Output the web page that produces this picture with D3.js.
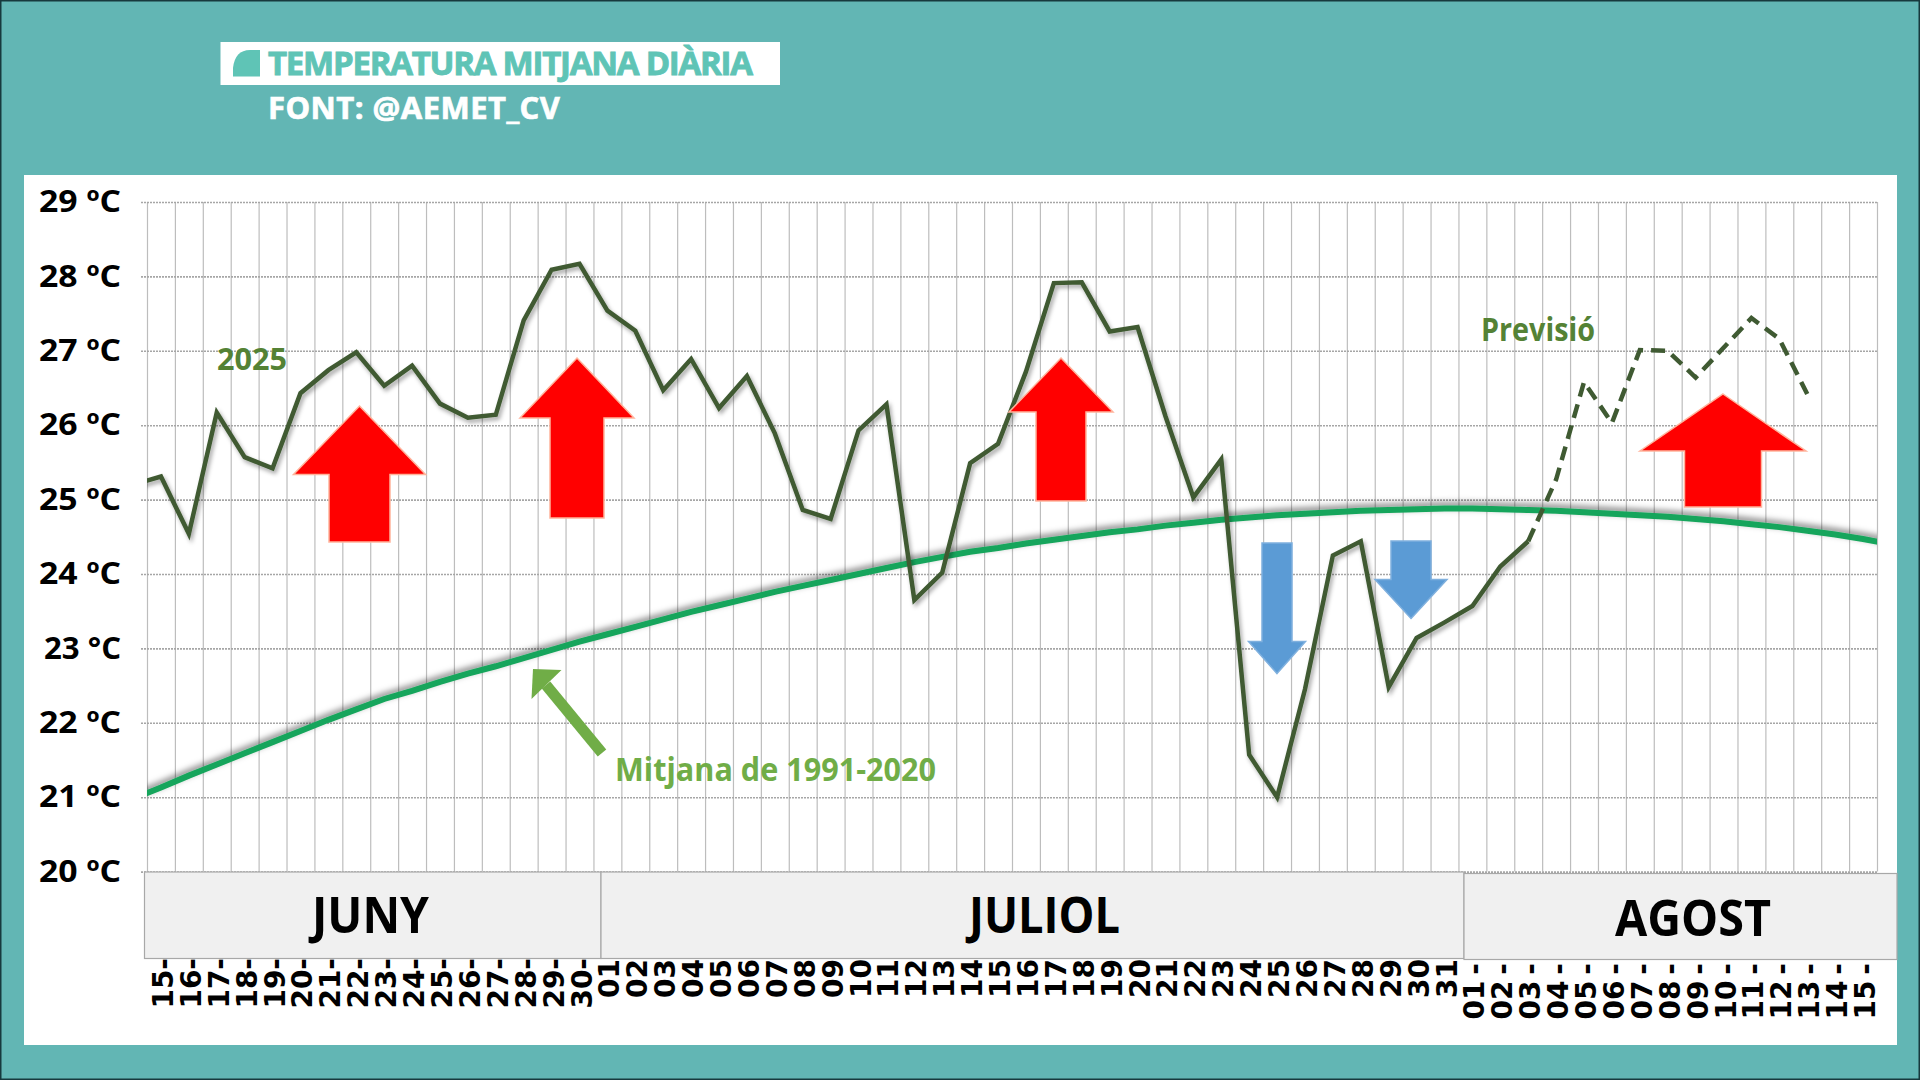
<!DOCTYPE html>
<html>
<head>
<meta charset="utf-8">
<script src="https://cdn.jsdelivr.net/npm/d3@7"></script>
<style>
html, body { margin: 0; padding: 0; background: #62b6b4; }
svg { display: block; }
</style>
</head>
<body>
<div id="chart"></div>
<script>

// y axis
var tempTicks = [20, 21, 22, 23, 24, 25, 26, 27, 28, 29]
var tempLabels = ["20 ºC", "21 ºC", "22 ºC", "23 °C", "24 ºC", "25 ºC", "26 ºC", "27 ºC", "28 ºC", "29 ºC"]

// x axis, one label per day
var juneDays = ["15", "16", "17", "18", "19", "20", "21", "22", "23", "24", "25", "26", "27", "28", "29", "30"]
var julyDays = ["01", "02", "03", "04", "05", "06", "07", "08", "09", "10", "11", "12", "13", "14", "15", "16",
  "17", "18", "19", "20", "21", "22", "23", "24", "25", "26", "27", "28", "29", "30", "31"]
var augustDays = ["01", "02", "03", "04", "05", "06", "07", "08", "09", "10", "11", "12", "13", "14", "15"]
var monthNames = ["JUNY", "JULIOL", "AGOST"]

// 2025 observed, first value is 14 June (only its slope shows, it is clipped)
var observed = [25.2, 25.31, 24.54, 26.17, 25.57, 25.42, 26.43, 26.74, 26.98, 26.53, 26.8, 26.29, 26.1, 26.14, 27.41, 28.09, 28.17,
  27.54, 27.27, 26.47, 26.89, 26.23, 26.66, 25.89, 24.86, 24.74, 25.93, 26.28, 23.65, 24.02, 25.49, 25.75, 26.72, 27.91, 27.92,
  27.26, 27.32, 26.12, 25.03, 25.54, 21.57, 21.0, 22.45, 24.25, 24.44, 22.48, 23.14, 23.35,
  23.57, 24.1, 24.44]

// forecast, starts on 3 August where observed stops
var forecast = [24.44, 25.27, 26.58, 26.03, 27.01, 27.0, 26.64, 27.04, 27.44, 27.16, 26.42]

// 1991-2020 mean, from 14 June to 16 August
var normal = [20.98, 21.13, 21.29, 21.44, 21.59, 21.74, 21.89, 22.04, 22.18, 22.32, 22.43, 22.55, 22.66, 22.76, 22.87, 22.98, 23.09,
  23.19, 23.29, 23.39, 23.49, 23.58, 23.67, 23.76, 23.84, 23.92, 24.0, 24.08, 24.16, 24.23, 24.3, 24.35, 24.41, 24.46, 24.51, 24.56,
  24.6, 24.65, 24.69, 24.73, 24.76, 24.79, 24.81, 24.83, 24.85, 24.86, 24.87, 24.88,
  24.88, 24.87, 24.86, 24.85, 24.83, 24.81, 24.79, 24.77, 24.74, 24.71, 24.67, 24.63, 24.58, 24.53, 24.47, 24.4]

var teal = "#62b6b4"
var dark = "#3f5a32"

var svg = d3.select("#chart").append("svg")
  .attr("width", 1920)
  .attr("height", 1080)

//Background and frame
svg.append("rect").attr("width", 1920).attr("height", 1080).style("fill", teal)
svg.append("rect").attr("x", 0.5).attr("y", 0.5).attr("width", 1919).attr("height", 1079)
  .style("fill", "none").style("stroke", "#17393d").style("stroke-width", 2)
svg.append("rect").attr("x", 24).attr("y", 175).attr("width", 1873).attr("height", 870).style("fill", "#fff")

//Shadows behind the lines
var defs = svg.append("defs")
function addShadow(id, dx, dy, blur, opacity){
  defs.append("filter")
    .attr("id", id)
    .attr("filterUnits", "userSpaceOnUse")
    .attr("x", 0).attr("y", 0).attr("width", 1920).attr("height", 1080)
    .append("feDropShadow")
    .attr("dx", dx).attr("dy", dy).attr("stdDeviation", blur)
    .attr("flood-color", "#000").attr("flood-opacity", opacity)
}
addShadow("shadowDark", 2, 3, 2, 0.35)
addShadow("shadowGreen", 0, -3, 3, 0.5)

var xScale = d3.scaleLinear().domain([-0.5, 61.5]).range([147, 1877])
var yScale = d3.scaleLinear().domain([20, 29]).range([871.6, 202])

defs.append("clipPath").attr("id", "plotClip").append("rect")
  .attr("x", xScale(-0.5)).attr("y", yScale(29))
  .attr("width", xScale(61.5) - xScale(-0.5))
  .attr("height", yScale(20) - yScale(29))

//Vertical grid, lines sit between the days
var gridEdges = d3.range(-0.5, 62, 1)
var xGrid = d3.axisTop(xScale).tickValues(gridEdges).tickSize(yScale(20) - yScale(29)).tickFormat("")
svg.append("g")
  .attr("transform", "translate(0," + yScale(20) + ")")
  .call(xGrid)
  .call(function(g){ g.select(".domain").remove() })
  .selectAll("line")
  .style("stroke", "#bdbdbd")
  .style("stroke-width", 1.2)

//Horizontal grid and temperature labels
var yAxis = d3.axisLeft(yScale)
  .tickValues(tempTicks)
  .tickSize(xScale(61.5) - 140)
  .tickFormat(function(d){ return tempLabels[tempTicks.indexOf(d)] })

var yG = svg.append("g")
  .attr("transform", "translate(" + xScale(61.5) + ",0)")
  .call(yAxis)
yG.select(".domain").remove()
yG.selectAll("line")
  .style("stroke", "#a6a6a6")
  .style("stroke-width", 1.6)
  .style("stroke-dasharray", "2 1")
yG.selectAll("text")
  .attr("x", 121 - xScale(61.5))
  .attr("dy", "0.31em")
  .attr("textLength", function(d){ return d == 23 ? 77 : 82 })
  .attr("lengthAdjust", "spacingAndGlyphs")
  .style("font-family", "'Open Sans'")
  .style("font-weight", 700)
  .style("font-size", "31px")
  .style("fill", "#000")

//Lines
var line = d3.line()
  .x(function(d){ return xScale(d.day) })
  .y(function(d){ return yScale(d.value) })

function toPoints(values, firstDay){
  return values.map(function(v, i){ return {day: firstDay + i, value: v} })
}

var plot = svg.append("g").attr("clip-path", "url(#plotClip)")

plot.append("g").attr("filter", "url(#shadowGreen)").append("path")
  .attr("d", line(toPoints(normal, -1)))
  .style("fill", "none")
  .style("stroke", "#17a55c")
  .style("stroke-width", 6)

plot.append("g").attr("filter", "url(#shadowDark)").append("path")
  .attr("d", line(toPoints(observed, -1)))
  .style("fill", "none")
  .style("stroke", dark)
  .style("stroke-width", 4.5)

plot.append("path")
  .attr("d", line(toPoints(forecast, 49)))
  .style("fill", "none")
  .style("stroke", dark)
  .style("stroke-width", 4.5)
  .style("stroke-dasharray", "14 8")

//Month boxes
function monthBox(name, x0, x1, y0, y1, textX, textW, base){
  svg.append("rect")
    .attr("x", x0).attr("y", y0)
    .attr("width", x1 - x0).attr("height", y1 - y0)
    .style("fill", "#f0f0f0")
    .style("stroke", "#a8a8a8")
    .style("stroke-width", 1.2)
  svg.append("text")
    .attr("x", textX).attr("y", base)
    .attr("textLength", textW)
    .attr("lengthAdjust", "spacingAndGlyphs")
    .style("font-family", "'Open Sans'")
    .style("font-weight", 700)
    .style("font-size", "51px")
    .text(name)
}
monthBox(monthNames[0], 144.5, 601, 872, 958.5, 312, 117, 933)
monthBox(monthNames[1], 601, 1464, 872, 958.5, 969, 151, 933)
monthBox(monthNames[2], 1464, 1897, 873.5, 959.5, 1615, 156, 936)

//Day labels, rotated, hung under the month boxes
function dayLabels(labels, firstDay, suffix, topY){
  svg.append("g").selectAll("text")
    .data(labels)
    .enter()
    .append("text")
    .attr("transform", function(d, i){
      return "translate(" + (xScale(firstDay + i) + 12) + "," + topY + ") rotate(-90)"
    })
    .attr("text-anchor", "end")
    .style("font-family", "'DejaVu Sans'")
    .style("font-weight", 700)
    .style("font-size", "28px")
    .html(function(d){ return d + suffix })
}
dayLabels(juneDays, 0, "-", 958)
dayLabels(julyDays, 16, "", 959)
dayLabels(augustDays, 47, '<tspan dx="6">-</tspan>', 963)

//Arrows, placed on the chart by hand like the original
function arrow(colour, edge, cx, tipY, baseY, endY, headHalf, shaftHalf){
  var dir = d3.path()
  dir.moveTo(cx, tipY)
  dir.lineTo(cx + headHalf, baseY)
  dir.lineTo(cx + shaftHalf, baseY)
  dir.lineTo(cx + shaftHalf, endY)
  dir.lineTo(cx - shaftHalf, endY)
  dir.lineTo(cx - shaftHalf, baseY)
  dir.lineTo(cx - headHalf, baseY)
  dir.closePath()
  svg.append("path")
    .attr("d", dir.toString())
    .style("fill", colour)
    .style("stroke", edge)
    .style("stroke-width", 1.5)
}
arrow("#ff0000", "#ffb49c", 359.5, 406, 474.5, 542, 66, 30.5)
arrow("#ff0000", "#ffb49c", 577, 358, 418, 518, 57, 27)
arrow("#ff0000", "#ffb49c", 1061, 358, 412, 501, 52, 25)
arrow("#ff0000", "#ffb49c", 1723, 394, 451, 507, 83, 38.5)
arrow("#5b9bd5", "#7fb0de", 1277, 673.6, 641.6, 543, 28.5, 15)
arrow("#5b9bd5", "#7fb0de", 1411, 618.5, 579.6, 541, 36, 20)

//Green arrow to the mean line
svg.append("line")
  .attr("x1", 602).attr("y1", 753)
  .attr("x2", 546).attr("y2", 685)
  .style("stroke", "#70ad47")
  .style("stroke-width", 11)
svg.append("path")
  .attr("d", "M533,669L561.5,670L531.5,699Z")
  .style("fill", "#70ad47")

//Notes
function note(txt, x, base, w, size, colour, adjust, weight){
  return svg.append("text")
    .attr("x", x).attr("y", base)
    .attr("textLength", w)
    .attr("lengthAdjust", adjust || "spacingAndGlyphs")
    .style("font-family", "'Open Sans'")
    .style("font-weight", 700)
    .style("font-size", size + "px")
    .style("fill", colour)
    .style("stroke", weight ? colour : "none")
    .style("stroke-width", weight || 0)
    .text(txt)
}
note("2025", 217, 370, 70, 31, "#548235")
note("Previsió", 1481, 341, 114, 32, "#548235")
note("Mitjana de 1991-2020", 615, 781, 321, 32, "#70ad47")

//Title block
svg.append("rect").attr("x", 220.5).attr("y", 42).attr("width", 559.5).attr("height", 43).style("fill", "#fff")
svg.append("path")
  .attr("d", "M233,76.5L233,68Q235,50 250,50L260,50L260,76.5Z")
  .style("fill", "#5fc4b6")
note("TEMPERATURA MITJANA DIÀRIA", 268, 75, 485, 33, "#5fc4b6", "spacing", 0.9)
note("FONT: @AEMET_CV", 268, 119, 292, 31, "#fff", "spacing", 0.7)

</script>
</body>
</html>
